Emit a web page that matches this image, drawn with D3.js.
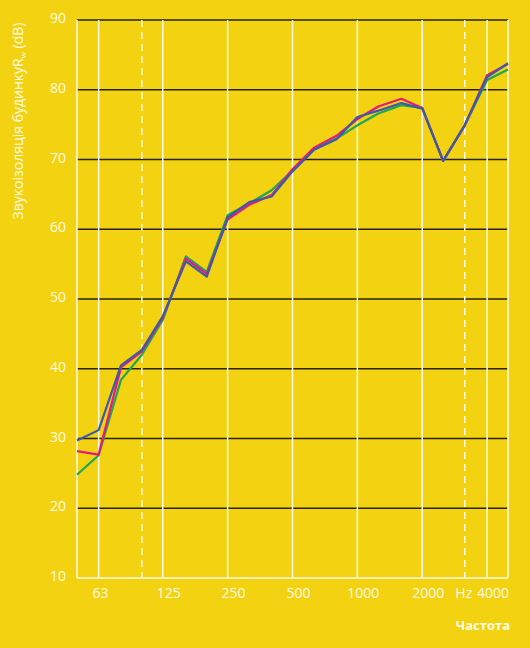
<!DOCTYPE html>
<html>
<head>
<meta charset="utf-8">
<script src="https://cdn.jsdelivr.net/npm/d3@7"></script>
<style>
  html, body { margin: 0; padding: 0; background: #f3d211; }
  svg { display: block; font-family: "Open Sans", Roboto, sans-serif; }
</style>
</head>
<body>
<div id="chart"></div>
<script>
// third-octave bands 50 Hz .. 5000 Hz
const freqs = [50, 63, 80, 100, 125, 160, 200, 250, 315, 400, 500, 630, 800, 1000, 1250, 1600, 2000, 2500, 3150, 4000, 5000]
const pinkVals  = [28.2, 27.7, 40.2, 42.5, 47.3, 55.8, 53.6, 61.4, 63.5, 64.9, 68.6, 71.7, 73.4, 75.8, 77.6, 78.7, 77.4, 69.8, 74.9, 82.1, 83.7]
const greenVals = [24.8, 27.6, 38.4, 42.0, 47.0, 56.1, 53.9, 62.0, 63.7, 65.6, 68.4, 71.5, 73.0, 74.9, 76.6, 77.8, 77.4, 69.8, 74.9, 81.4, 82.9]
const blueVals  = [29.7, 31.2, 40.5, 42.7, 47.5, 55.4, 53.2, 61.7, 63.9, 64.7, 68.3, 71.4, 72.9, 76.1, 77.0, 78.1, 77.3, 69.8, 74.9, 81.8, 83.8]
const xTicks = [63, 125, 250, 500, 1000, 2000, 4000]
const xDashed = [100, 3150]
const yTicks = [10, 20, 30, 40, 50, 60, 70, 80, 90]

const width = 530, height = 648

const svg = d3.select('#chart')
              .append('svg')
              .attr('width', width)
              .attr('height', height)

svg.append('rect').attr('width', width).attr('height', height).attr('fill', '#f3d211')

const x = d3.scaleLog().domain([50, 5000]).range([77, 508])
const y = d3.scaleLinear().domain([10, 90]).range([578, 20])

// horizontal grid
svg.append('g')
   .selectAll('line')
   .data(yTicks.filter(d => d > 10))
   .enter()
   .append('line')
   .attr('x1', x(50)).attr('x2', x(5000))
   .attr('y1', d => y(d)).attr('y2', d => y(d))
   .attr('stroke', '#26230f')
   .attr('stroke-width', 1.3)

// vertical grid
svg.append('g')
   .selectAll('line')
   .data([50, 5000].concat(xTicks))
   .enter()
   .append('line')
   .attr('x1', d => x(d)).attr('x2', d => x(d))
   .attr('y1', y(90)).attr('y2', y(10))
   .attr('stroke', '#fffbe6')
   .attr('stroke-width', 1.5)

svg.append('g')
   .selectAll('line')
   .data(xDashed)
   .enter()
   .append('line')
   .attr('x1', d => x(d)).attr('x2', d => x(d))
   .attr('y1', y(90)).attr('y2', y(10))
   .attr('stroke', '#fffbe6')
   .attr('stroke-width', 1.5)
   .attr('stroke-dasharray', '7,5')

// bottom axis line
svg.append('line')
   .attr('x1', x(50)).attr('x2', x(5000))
   .attr('y1', y(10)).attr('y2', y(10))
   .attr('stroke', '#fffbe6')
   .attr('stroke-width', 1.5)

// y tick labels
svg.append('g')
   .selectAll('text')
   .data(yTicks)
   .enter()
   .append('text')
   .attr('x', 66)
   .attr('y', d => y(d) + 3)
   .attr('text-anchor', 'end')
   .attr('fill', '#fffbe6')
   .attr('font-size', 14)
   .text(d => d)

// x tick labels
svg.append('g')
   .selectAll('text')
   .data(xTicks)
   .enter()
   .append('text')
   .attr('x', d => x(d) + (d === 63 ? 2 : 6))
   .attr('y', 598)
   .attr('text-anchor', 'middle')
   .attr('fill', '#fffbe6')
   .attr('font-size', 14)
   .text(d => d)

svg.append('text')
   .attr('x', x(3150) - 1)
   .attr('y', 598)
   .attr('text-anchor', 'middle')
   .attr('fill', '#fffbe6')
   .attr('font-size', 14)
   .text('Hz')

// axis titles
const yTitle = svg.append('text')
   .attr('transform', 'translate(23,121) rotate(-90)')
   .attr('text-anchor', 'middle')
   .attr('fill', '#fffbe6')
   .attr('font-size', 14)
yTitle.append('tspan').text('Звукоізоляція будинкуR')
yTitle.append('tspan').attr('font-size', 8).attr('dy', 3).text('w')
yTitle.append('tspan').attr('dy', -3).text(' (dB)')

svg.append('text')
   .attr('x', 510)
   .attr('y', 630)
   .attr('text-anchor', 'end')
   .attr('fill', '#fffbe6')
   .attr('font-size', 13)
   .attr('font-weight', 'bold')
   .text('Частота')

// series
const line = d3.line()
               .x((d, i) => x(freqs[i]))
               .y(d => y(d))

const series = [
  {vals: greenVals, color: '#1ea65a'},
  {vals: pinkVals, color: '#e8197d'},
  {vals: blueVals, color: '#3b5ba8'}
]

svg.append('g')
   .selectAll('path')
   .data(series)
   .enter()
   .append('path')
   .attr('d', d => line(d.vals))
   .attr('fill', 'none')
   .attr('stroke', d => d.color)
   .attr('stroke-width', 2.2)
   .attr('stroke-linejoin', 'round')
</script>
</body>
</html>
